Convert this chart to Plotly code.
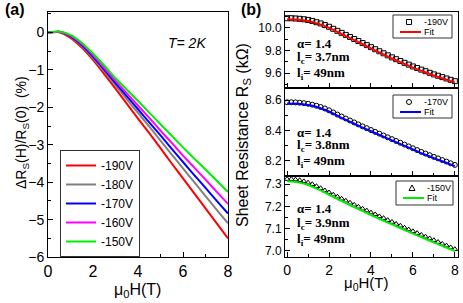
import plotly.graph_objects as go

# ---------------- Panel (a) data ----------------
H_a = [0, 0.5, 1, 1.5, 2, 2.5, 3, 3.5, 4, 4.5, 5, 5.5, 6, 6.5, 7, 7.5, 8]
mr_190 = [0, 0.01, -0.14, -0.40, -0.73, -1.11, -1.50, -1.90, -2.30, -2.69, -3.09, -3.50, -3.90, -4.30, -4.70, -5.10, -5.50]
mr_180 = [0, 0.02, -0.11, -0.36, -0.68, -1.04, -1.41, -1.78, -2.15, -2.51, -2.89, -3.26, -3.63, -4.00, -4.37, -4.74, -5.10]
mr_170 = [0, 0.02, -0.10, -0.33, -0.64, -0.99, -1.35, -1.70, -2.05, -2.40, -2.75, -3.11, -3.46, -3.81, -4.15, -4.50, -4.84]
mr_160 = [0, 0.02, -0.08, -0.30, -0.60, -0.94, -1.29, -1.62, -1.95, -2.28, -2.62, -2.95, -3.29, -3.61, -3.93, -4.26, -4.58]
mr_150 = [0, 0.03, -0.06, -0.27, -0.56, -0.88, -1.22, -1.52, -1.83, -2.14, -2.45, -2.76, -3.07, -3.37, -3.66, -3.96, -4.26]
labels_a = ["-190V", "-180V", "-170V", "-160V", "-150V"]
colors_a = ["#ff0000", "#808080", "#0000ff", "#ff00ff", "#00ee00"]

# ---------------- Panel (b) data ----------------
H_data = [0.0, 0.2, 0.4, 0.6, 0.8, 1.0, 1.2, 1.4, 1.6, 1.8, 2.0, 2.2, 2.4, 2.6, 2.8, 3.0, 3.2, 3.4, 3.6, 3.8,
          4.0, 4.2, 4.4, 4.6, 4.8, 5.0, 5.2, 5.4, 5.6, 5.8, 6.0, 6.2, 6.4, 6.6, 6.8, 7.0, 7.2, 7.4, 7.6, 7.8, 8.0]
rs_190 = [10.085, 10.085, 10.083, 10.080, 10.076, 10.070, 10.061, 10.050, 10.039, 10.025, 10.010, 9.992, 9.974,
          9.956, 9.938, 9.920, 9.902, 9.884, 9.866, 9.848, 9.830, 9.812, 9.794, 9.776, 9.758, 9.740, 9.724, 9.708,
          9.692, 9.676, 9.660, 9.646, 9.632, 9.618, 9.604, 9.590, 9.578, 9.566, 9.554, 9.542, 9.530]
rs_170 = [8.586, 8.586, 8.585, 8.583, 8.580, 8.576, 8.570, 8.563, 8.555, 8.545, 8.533, 8.519, 8.505, 8.492, 8.479,
          8.466, 8.453, 8.440, 8.427, 8.415, 8.403, 8.391, 8.379, 8.367, 8.355, 8.343, 8.331, 8.319, 8.307, 8.295,
          8.283, 8.271, 8.259, 8.248, 8.237, 8.226, 8.216, 8.205, 8.195, 8.184, 8.173]
rs_150 = [7.322, 7.322, 7.320, 7.317, 7.312, 7.306, 7.299, 7.290, 7.281, 7.271, 7.262, 7.252, 7.243, 7.234, 7.225,
          7.216, 7.207, 7.198, 7.189, 7.181, 7.172, 7.164, 7.155, 7.147, 7.138, 7.130, 7.121, 7.113, 7.104, 7.096,
          7.088, 7.080, 7.072, 7.064, 7.056, 7.048, 7.040, 7.032, 7.024, 7.016, 7.008]
H_fit = [0, 0.5, 1, 1.5, 2, 2.5, 3, 3.5, 4, 4.5, 5, 5.5, 6, 6.5, 7, 7.5, 8]
fit_190 = [10.075, 10.072, 10.060, 10.035, 10.000, 9.955, 9.910, 9.865, 9.820, 9.775, 9.730, 9.690, 9.650, 9.615, 9.580, 9.550, 9.520]
fit_170 = [8.578, 8.576, 8.568, 8.552, 8.525, 8.490, 8.458, 8.425, 8.395, 8.365, 8.335, 8.305, 8.275, 8.245, 8.218, 8.192, 8.165]
fit_150 = [7.312, 7.308, 7.296, 7.276, 7.252, 7.228, 7.205, 7.183, 7.161, 7.140, 7.119, 7.098, 7.078, 7.058, 7.038, 7.019, 7.000]

params_b = [("1.4", "3.7", "49"), ("1.4", "3.8", "49"), ("1.4", "3.9", "49")]
labels_b = ["-190V", "-170V", "-150V"]

SANS = "Liberation Sans, Arial, sans-serif"
SERIF = "Liberation Serif, Times New Roman, serif"

fig = go.Figure()

for ys, lab, col in zip([mr_190, mr_180, mr_170, mr_160, mr_150], labels_a, colors_a):
    fig.add_trace(go.Scatter(x=H_a, y=ys, mode="lines", name=lab,
                             line=dict(color=col, width=2, shape="spline", smoothing=0.6),
                             xaxis="x", yaxis="y"))

panels = [
    ("2", rs_190, fit_190, "square-open", "#ff0000"),
    ("3", rs_170, fit_170, "circle-open", "#0000ff"),
    ("4", rs_150, fit_150, "triangle-up-open", "#00ee00"),
]
for ax, dat, fit, sym, col in panels:
    fig.add_trace(go.Scatter(x=H_data, y=dat, mode="markers", showlegend=False,
                             marker=dict(symbol=sym, size=5, color="black", line=dict(width=1, color="black")),
                             xaxis="x" + ax, yaxis="y" + ax))
    fig.add_trace(go.Scatter(x=H_fit, y=fit, mode="lines", showlegend=False,
                             line=dict(color=col, width=2, shape="spline", smoothing=0.6),
                             xaxis="x" + ax, yaxis="y" + ax))

W, Hh = 463, 303
def px(x): return x / W
def py(y): return (Hh - y) / Hh

axis_common = dict(showline=True, linecolor="black", linewidth=1, mirror=True, automargin=False,
                   ticks="inside", ticklen=5, tickcolor="black", showgrid=False, zeroline=False)

layout = dict(
    width=W, height=Hh, margin=dict(l=0, r=0, t=0, b=0, autoexpand=False),
    paper_bgcolor="white", plot_bgcolor="white",
    font=dict(family=SANS, color="black"),
    xaxis=dict(domain=[px(48), px(228)], range=[0, 8], dtick=2, tickfont=dict(size=16),
               minor=dict(dtick=1, ticks="inside", ticklen=3, tickcolor="black"),
               anchor="y", **axis_common),
    yaxis=dict(domain=[py(257), py(12)], range=[-6, 0.55], dtick=1, tickfont=dict(size=14),
               minor=dict(dtick=0.5, ticks="inside", ticklen=3, tickcolor="black"),
               anchor="x", **axis_common),
)
b_dom = [(py(88), py(12)), (py(176), py(88)), (py(257), py(176))]
b_y = [
    dict(range=[9.47, 10.14], tickvals=[9.6, 9.8, 10.0], minor=dict(tickvals=[9.5, 9.7, 9.9, 10.1], ticks="inside", ticklen=3, tickcolor="black")),
    dict(range=[8.10, 8.68], tickvals=[8.2, 8.4, 8.6], minor=dict(tickvals=[8.3, 8.5], ticks="inside", ticklen=3, tickcolor="black")),
    dict(range=[6.973, 7.336], tickvals=[7.0, 7.1, 7.2, 7.3], minor=dict(tickvals=[7.05, 7.15, 7.25], ticks="inside", ticklen=3, tickcolor="black")),
]
for i, ax in enumerate(["2", "3", "4"]):
    layout["xaxis" + ax] = dict(domain=[px(285), px(458)], range=[-0.1, 8.15], dtick=2,
                                showticklabels=(ax == "4"), tickfont=dict(size=14),
                                minor=dict(dtick=1, ticks="inside", ticklen=3, tickcolor="black"),
                                anchor="y" + ax, **axis_common)
    layout["yaxis" + ax] = dict(domain=list(b_dom[i]), tickformat=".1f", tickfont=dict(size=12),
                                anchor="x" + ax, **axis_common, **b_y[i])

layout["legend"] = dict(x=px(60), y=py(150), xanchor="left", yanchor="top", xref="paper", yref="paper",
                        bgcolor="white", bordercolor="#333", borderwidth=1,
                        font=dict(size=12, family=SANS), tracegroupgap=0)

ann = []
shapes = []
ann.append(dict(text="<b>(a)</b>", x=px(3), y=py(10), xanchor="left", yanchor="middle", font=dict(size=16)))
ann.append(dict(text="<b>(b)</b>", x=px(239), y=py(10), xanchor="left", yanchor="middle", font=dict(size=16)))
ann.append(dict(text="<i>T= 2K</i>", x=px(187), y=py(43), xanchor="center", yanchor="middle", font=dict(size=14)))
ann.append(dict(text="μ<sub>0</sub>H(T)", x=px(137), y=py(290), xanchor="center", yanchor="middle", font=dict(size=16)))
ann.append(dict(text="μ<sub>0</sub>H(T)", x=px(366), y=py(283), xanchor="center", yanchor="middle", font=dict(size=15)))
ann.append(dict(text="ΔR<sub>S</sub>(H)/R<sub>S</sub>(0)  (%)", x=px(22), y=py(133), xanchor="center", yanchor="middle",
                textangle=-90, font=dict(size=14)))
ann.append(dict(text="Sheet Resistance R<sub>S</sub> (kΩ)", x=px(244), y=py(135), xanchor="center", yanchor="middle",
                textangle=-90, font=dict(size=16)))
text_y = [(43, 58, 74), (132, 146, 161), (208, 223, 239)]
for (a, lc, li), ys in zip(params_b, text_y):
    for t, yy in zip([f"<b>α= {a}</b>", f"<b>l<sub>c</sub>= {lc}nm</b>", f"<b>l<sub>i</sub>= {li}nm</b>"], ys):
        ann.append(dict(text=t, x=px(295), y=py(yy), xanchor="left", yanchor="middle",
                        font=dict(size=13, family=SERIF)))

# small legend boxes of panel (b): (box left, right, top, bottom), symbol kind, fit colour
leg_b = [((393, 452, 15, 38), "square", "#ff0000"),
         ((393, 452, 95, 118), "circle", "#0000ff"),
         ((396, 453, 181, 205), "triangle", "#00ee00")]
for (l, r, t, b), kind, col in zip([g[0] for g in leg_b], [g[1] for g in leg_b], [g[2] for g in leg_b]):
    shapes.append(dict(type="rect", xref="paper", yref="paper", x0=px(l), x1=px(r), y0=py(b), y1=py(t),
                       line=dict(color="#333", width=1), fillcolor="white", layer="above"))
    ym = t + 7
    yl = t + 17
    mx = l + 16
    if kind == "square":
        shapes.append(dict(type="rect", xref="paper", yref="paper", x0=px(mx - 2.5), x1=px(mx + 2.5),
                           y0=py(ym + 2.5), y1=py(ym - 2.5), line=dict(color="black", width=1), layer="above"))
    elif kind == "circle":
        shapes.append(dict(type="circle", xref="paper", yref="paper", x0=px(mx - 2.5), x1=px(mx + 2.5),
                           y0=py(ym + 2.5), y1=py(ym - 2.5), line=dict(color="black", width=1), layer="above"))
    else:
        shapes.append(dict(type="path", xref="paper", yref="paper", layer="above",
                           path=f"M {px(mx-3)},{py(ym+2.5)} L {px(mx+3)},{py(ym+2.5)} L {px(mx)},{py(ym-3)} Z",
                           line=dict(color="black", width=1)))
    shapes.append(dict(type="line", xref="paper", yref="paper", x0=px(l + 7), x1=px(l + 28),
                       y0=py(yl), y1=py(yl), line=dict(color=col, width=2), layer="above"))
for (box, kind, col), lab in zip(leg_b, labels_b):
    l, r, t, b = box
    ann.append(dict(text=lab, x=px(l + 29), y=py(t + 7), xanchor="left", yanchor="middle", font=dict(size=9)))
    ann.append(dict(text="Fit", x=px(l + 29), y=py(t + 17), xanchor="left", yanchor="middle", font=dict(size=9)))

for a in ann:
    a.update(xref="paper", yref="paper", showarrow=False)
layout["annotations"] = ann
layout["shapes"] = shapes

fig.update_layout(**layout)
fig.write_html("out.html", config={"displayModeBar": False},
               post_script="document.documentElement.style.margin='0';document.body.style.margin='0';"
                           "document.body.style.overflow='hidden';")
